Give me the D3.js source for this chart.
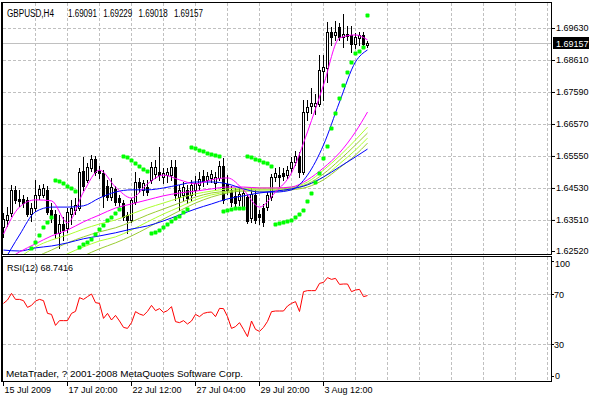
<!DOCTYPE html>
<html><head><meta charset="utf-8">
<script src="https://cdn.jsdelivr.net/npm/d3@7"></script>
<style>
html,body{margin:0;padding:0;background:#fff;}
svg{display:block;}
text{font-family:"Liberation Sans",Arial,sans-serif;font-size:9px;fill:#000;}
</style></head><body><svg id="c" width="589" height="398"></svg>
<script>
const symbol = "GBPUSD,H4";
const copyright = "MetaTrader, ? 2001-2008 MetaQuotes Software Corp.";
const rsiName = "RSI(12)";
const dateTickIdx = [0,16,32,48,64,80];
const dateTickLabels = ["15 Jul 2009","17 Jul 20:00","22 Jul 12:00","27 Jul 04:00","29 Jul 20:00","3 Aug 12:00"];
const priceTicks = [1.69630,1.68610,1.67590,1.66570,1.65550,1.64530,1.63510];
const priceBottom = 1.62520;
const rsiTicks = [100,70,30,0];
const rsiLevels = [70,30];

const opens = [1.6329,1.6351,1.6373,1.6447,1.6418,1.6418,1.6415,1.6370,1.6389,1.6431,
1.6431,1.6447,1.6383,1.6370,1.6310,1.6338,1.6326,1.6370,1.6383,1.6389,
1.6507,1.6479,1.6517,1.6545,1.6507,1.6501,1.6459,1.6424,1.6450,1.6421,
1.6405,1.6367,1.6351,1.6408,1.6472,1.6447,1.6456,1.6479,1.6498,1.6504,
1.6488,1.6494,1.6494,1.6520,1.6424,1.6431,1.6447,1.6431,1.6447,1.6463,
1.6491,1.6479,1.6485,1.6469,1.6485,1.6523,1.6466,1.6447,1.6428,1.6415,
1.6392,1.6424,1.6357,1.6431,1.6370,1.6389,1.6392,1.6424,1.6488,1.6494,
1.6501,1.6494,1.6517,1.6536,1.6555,1.6504,1.6695,1.6714,1.6714,1.6721,
1.6826,1.6836,1.6950,1.6941,1.6966,1.6934,1.6944,1.6941,1.6912,1.6931,
1.6941,1.69091];
const highs = [1.6373,1.6392,1.6463,1.6459,1.6447,1.6431,1.6424,1.6405,1.6479,1.6463,
1.6466,1.6459,1.6405,1.6383,1.6367,1.6361,1.6389,1.6415,1.6421,1.6517,
1.6552,1.6533,1.6558,1.6555,1.6523,1.6510,1.6479,1.6485,1.6459,1.6431,
1.6415,1.6377,1.6421,1.6504,1.6485,1.6479,1.6479,1.6536,1.6542,1.6584,
1.6517,1.6517,1.6542,1.6542,1.6463,1.6472,1.6463,1.6479,1.6491,1.6504,
1.6510,1.6504,1.6510,1.6504,1.6539,1.6549,1.6494,1.6459,1.6453,1.6453,
1.6447,1.6434,1.6453,1.6447,1.6383,1.6402,1.6440,1.6498,1.6517,1.6520,
1.6517,1.6523,1.6552,1.6571,1.6568,1.6734,1.6734,1.6772,1.6753,1.6877,
1.6877,1.6982,1.6966,1.6985,1.6979,1.7008,1.6969,1.6969,1.6947,1.6950,
1.6950,1.69229];
const lows = [1.6297,1.6332,1.6364,1.6405,1.6396,1.6392,1.6364,1.6348,1.6380,1.6418,
1.6424,1.6370,1.6345,1.6294,1.6262,1.6287,1.6313,1.6338,1.6370,1.6383,
1.6447,1.6472,1.6507,1.6494,1.6485,1.6392,1.6415,1.6415,1.6399,1.6396,
1.6351,1.6310,1.6345,1.6402,1.6440,1.6431,1.6431,1.6469,1.6485,1.6479,
1.6469,1.6472,1.6479,1.6415,1.6383,1.6415,1.6405,1.6415,1.6431,1.6447,
1.6459,1.6466,1.6472,1.6447,1.6479,1.6405,1.6434,1.6396,1.6392,1.6399,
1.6392,1.6342,1.6345,1.6342,1.6338,1.6332,1.6383,1.6415,1.6475,1.6459,
1.6479,1.6485,1.6504,1.6526,1.6488,1.6498,1.6670,1.6692,1.6689,1.6714,
1.6734,1.6791,1.6909,1.6925,1.6925,1.6903,1.6925,1.6887,1.6899,1.6909,
1.6903,1.69018];
const closes = [1.6354,1.6367,1.6447,1.6415,1.6412,1.6405,1.6370,1.6389,1.6431,1.6450,
1.6453,1.6377,1.6364,1.6310,1.6338,1.6319,1.6377,1.6389,1.6399,1.6504,
1.6459,1.6520,1.6545,1.6504,1.6501,1.6428,1.6424,1.6456,1.6408,1.6408,
1.6361,1.6351,1.6415,1.6472,1.6456,1.6469,1.6440,1.6520,1.6520,1.6494,
1.6501,1.6504,1.6520,1.6431,1.6447,1.6456,1.6421,1.6463,1.6469,1.6482,
1.6475,1.6491,1.6498,1.6488,1.6523,1.6415,1.6447,1.6408,1.6405,1.6434,
1.6437,1.6348,1.6434,1.6351,1.6361,1.6345,1.6431,1.6488,1.6501,1.6488,
1.6491,1.6510,1.6536,1.6555,1.6504,1.6695,1.6711,1.6724,1.6724,1.6829,
1.6839,1.6950,1.6934,1.6950,1.6934,1.6944,1.6938,1.6912,1.6934,1.6941,
1.6912,1.69157];

const sar = [null,null,null,null,null,null,null,1.6262,1.6281,1.6303,
1.6329,1.6345,1.6361,1.6479,1.6475,1.6469,1.6459,1.6453,1.6443,1.6265,
1.6275,1.6281,1.6291,1.6306,1.6322,1.6335,1.6351,1.6361,1.6373,1.6386,
1.6555,1.6552,1.6542,1.6533,1.6523,1.6514,1.6507,1.6310,1.6313,1.6319,
1.6329,1.6338,1.6348,1.6357,1.6364,1.6377,1.6386,1.6584,1.6581,1.6574,
1.6571,1.6565,1.6561,1.6558,1.6555,1.6380,1.6383,1.6386,1.6389,1.6389,
1.6389,1.6555,1.6552,1.6545,1.6542,1.6536,1.6533,1.6523,1.6338,1.6342,
1.6345,1.6348,1.6351,1.6361,1.6370,1.6383,1.6412,1.6437,1.6472,1.6501,
1.6549,1.6587,1.6644,1.6692,1.6740,1.6781,1.6823,1.6855,1.6883,1.6890,
1.6903,1.7004];

const rsi = [62.5,65.2,70.5,65.7,65.7,64.7,59.3,60.9,64.4,65.7,
64.7,54.5,53.7,44.9,48.7,48.7,48.7,54.5,56.1,67.1,
65.7,67.9,70.0,63.1,62.5,50.5,54.5,49.2,52.9,48.4,
43.3,42.5,47.1,55.9,54.0,52.9,56.1,60.9,56.7,58.3,
55.3,56.7,59.9,47.9,47.1,48.7,46.0,48.4,53.7,51.9,
54.5,55.3,55.6,51.9,58.5,58.3,51.9,42.5,43.9,47.1,
41.7,35.9,48.4,41.7,40.1,43.3,48.1,55.9,56.4,56.4,
56.4,60.4,62.5,63.9,56.0,71.9,72.7,72.7,72.7,78.5,
79.3,83.1,81.7,82.5,77.7,78.0,78.0,71.9,73.2,73.7,
67.9,68.7416];

// moving averages read at every 4th bar
const maIdx = [0,4,8,12,16,20,24,28,32,36,40,44,48,52,56,60,64,68,72,76,80,84,88,91];
const maMagentaFast = [1.6306,1.6392,1.6415,1.6412,1.6342,1.6440,1.6510,1.6456,1.6421,1.6466,1.6494,1.6479,1.6466,1.6479,1.6485,1.6447,1.6392,1.6440,1.6501,1.6632,1.6781,1.6931,1.6941,1.6925];
const maMagentaSlow = [1.6217,1.6249,1.6275,1.6300,1.6319,1.6345,1.6367,1.6389,1.6402,1.6415,1.6428,1.6437,1.6443,1.6450,1.6456,1.6456,1.6453,1.6453,1.6456,1.6479,1.6517,1.6565,1.6632,1.6695];
const maBlueFast = [1.6217,1.6303,1.6377,1.6392,1.6392,1.6396,1.6421,1.6440,1.6447,1.6447,1.6453,1.6463,1.6472,1.6472,1.6466,1.6450,1.6440,1.6440,1.6447,1.6494,1.6590,1.6727,1.6855,1.6893];
const maBlueSlow = [1.6255,1.6252,1.6262,1.6268,1.6278,1.6291,1.6300,1.6310,1.6322,1.6332,1.6348,1.6367,1.6386,1.6402,1.6418,1.6428,1.6437,1.6443,1.6450,1.6463,1.6488,1.6520,1.6552,1.6577];
const maLime1 = [1.6176,1.6230,1.6265,1.6287,1.6303,1.6322,1.6338,1.6351,1.6370,1.6389,1.6405,1.6421,1.6434,1.6443,1.6450,1.6453,1.6453,1.6453,1.6456,1.6472,1.6510,1.6555,1.6606,1.6647];
const maLime2 = [1.6128,1.6185,1.6230,1.6255,1.6278,1.6297,1.6313,1.6326,1.6345,1.6367,1.6386,1.6405,1.6424,1.6437,1.6443,1.6450,1.6450,1.6450,1.6453,1.6466,1.6498,1.6542,1.6590,1.6628];
const maLime3 = [1.6080,1.6138,1.6182,1.6214,1.6243,1.6265,1.6284,1.6297,1.6319,1.6345,1.6370,1.6392,1.6415,1.6431,1.6440,1.6447,1.6447,1.6447,1.6450,1.6463,1.6488,1.6530,1.6574,1.6612];
const maLime4 = [1.6032,1.6096,1.6141,1.6176,1.6208,1.6236,1.6259,1.6278,1.6300,1.6326,1.6354,1.6380,1.6405,1.6424,1.6437,1.6443,1.6443,1.6443,1.6447,1.6456,1.6479,1.6517,1.6558,1.6596];

// ---------- drawing ----------
const svg = d3.select('#c');
const nSlots = 137;
const x = d3.scaleLinear().domain([0, nSlots]).range([3, 551]);
const y = d3.scaleLinear().domain([priceBottom, priceTicks[0]]).range([251, 28]);
const yr = d3.scaleLinear().domain([0, 100]).range([381.5, 256.5]);
const GRID = '#c0c0c0';

const defs = svg.append('defs');
defs.append('clipPath').attr('id','clipMain').append('rect').attr('x',3).attr('y',3).attr('width',548).attr('height',251);
defs.append('clipPath').attr('id','clipRsi').append('rect').attr('x',3).attr('y',257).attr('width',548).attr('height',124);

svg.append('rect').attr('width',589).attr('height',398).attr('fill','#fff');

const vGrid = d3.range(8, nSlots, 8);
// main grid
const gGrid = svg.append('g').attr('stroke',GRID).attr('stroke-dasharray','3,2').attr('shape-rendering','crispEdges');
gGrid.selectAll('line.v').data(vGrid).join('line').attr('class','v')
  .attr('x1',d=>x(d)+0.5).attr('x2',d=>x(d)+0.5).attr('y1',3).attr('y2',254);
gGrid.selectAll('line.h').data(priceTicks).join('line').attr('class','h')
  .attr('x1',3).attr('x2',551).attr('y1',d=>Math.round(y(d))+0.5).attr('y2',d=>Math.round(y(d))+0.5);
// rsi grid
gGrid.selectAll('line.rv').data(vGrid).join('line').attr('class','rv')
  .attr('x1',d=>x(d)+0.5).attr('x2',d=>x(d)+0.5).attr('y1',257).attr('y2',381);
gGrid.selectAll('line.rh').data(rsiLevels).join('line').attr('class','rh')
  .attr('x1',3).attr('x2',551).attr('y1',d=>Math.round(yr(d))+0.5).attr('y2',d=>Math.round(yr(d))+0.5);

const bid = closes[closes.length-1];
svg.append('line').attr('x1',3).attr('x2',551)
  .attr('y1',Math.round(y(bid))+0.5).attr('y2',Math.round(y(bid))+0.5)
  .attr('stroke',GRID).attr('shape-rendering','crispEdges');

const gMain = svg.append('g').attr('clip-path','url(#clipMain)');
const bars = opens.map((o,i)=>({i, o, h:highs[i], l:lows[i], c:closes[i]}));
const gc = gMain.append('g').attr('shape-rendering','crispEdges');
gc.selectAll('line').data(bars).join('line')
  .attr('x1',d=>x(d.i)+0.5).attr('x2',d=>x(d.i)+0.5)
  .attr('y1',d=>Math.round(y(d.h))).attr('y2',d=>Math.round(y(d.l))+1)
  .attr('stroke','#000');
gc.selectAll('rect').data(bars).join('rect')
  .attr('x',d=>x(d.i)-0.5).attr('width',2)
  .attr('y',d=>Math.round(y(Math.max(d.o,d.c)))+0.5)
  .attr('height',d=>Math.max(1, Math.round(y(Math.min(d.o,d.c))) - Math.round(y(Math.max(d.o,d.c)))))
  .attr('fill',d=>d.c>=d.o?'#fff':'#000').attr('stroke','#000');

const maLine = d3.line().x((d,k)=>x(maIdx[k])+0.5).y(d=>y(d)).curve(d3.curveMonotoneX);
const maDefs = [
  {v:maLime4, c:'#9acd32'}, {v:maLime3, c:'#adff2f'}, {v:maLime2, c:'#9acd32'}, {v:maLime1, c:'#adff2f'},
  {v:maBlueSlow, c:'#0000ff'}, {v:maMagentaSlow, c:'#ff00ff'},
  {v:maBlueFast, c:'#0000ff'}, {v:maMagentaFast, c:'#ff00ff'}
];
gMain.selectAll('path.ma').data(maDefs).join('path').attr('class','ma')
  .attr('d',d=>maLine(d.v)).attr('fill','none').attr('stroke',d=>d.c).attr('stroke-width',1);

const sarPts = sar.map((v,i)=>({i,v})).filter(d=>d.v!==null);
gMain.selectAll('rect.sar').data(sarPts).join('rect').attr('class','sar')
  .attr('x',d=>x(d.i)-1.5).attr('y',d=>Math.round(y(d.v))-1.5)
  .attr('width',4).attr('height',4).attr('rx',1).attr('fill','#00ff00');

// RSI
const gR = svg.append('g').attr('clip-path','url(#clipRsi)');
gR.append('path').attr('d', d3.line().x((d,i)=>x(i)+0.5).y(d=>yr(d))(rsi))
  .attr('fill','none').attr('stroke','#ff0000').attr('stroke-width',1);

// frames
const gF = svg.append('g').attr('fill','none').attr('stroke','#000').attr('shape-rendering','crispEdges');
gF.append('rect').attr('x',2.5).attr('y',2.5).attr('width',549).attr('height',252);
gF.append('rect').attr('x',2.5).attr('y',256.5).attr('width',549).attr('height',125);
gF.append('line').attr('x1',1.5).attr('x2',1.5).attr('y1',2).attr('y2',382);

// price axis
const pa = svg.append('g').attr('transform','translate(551,0)')
  .call(d3.axisRight(y).tickValues([...priceTicks, priceBottom]).tickSize(4).tickPadding(1).tickFormat(d3.format('.5f')));
pa.select('.domain').remove();
pa.selectAll('text').attr('font-size',9).attr('font-family','"Liberation Sans",Arial,sans-serif').attr('fill','#000');
pa.selectAll('line').attr('stroke','#000');

// bid label
const by = Math.round(y(bid));
svg.append('rect').attr('x',553).attr('y',by-6).attr('width',36).attr('height',12).attr('fill','#000');
svg.append('text').attr('x',556).attr('y',by+3.5).attr('fill','#fff').style('fill','#fff').text(d3.format('.5f')(bid));

// rsi axis
const ra = svg.append('g').attr('transform','translate(551,0)');
ra.selectAll('line').data(rsiTicks).join('line')
  .attr('x1',0).attr('x2',3)
  .attr('y1',d=>Math.round(yr(d) + (d===100?4:d===0?-6:0))+0.5)
  .attr('y2',d=>Math.round(yr(d) + (d===100?4:d===0?-6:0))+0.5)
  .attr('stroke','#000');
ra.selectAll('text').data(rsiTicks).join('text')
  .attr('x',d=>d===100||d===0?4:3)
  .attr('y',d=>yr(d) + (d===100?10:d===0?-3:3.5))
  .text(d=>d);

// date axis
const da = svg.append('g').attr('transform','translate(0,381)')
  .call(d3.axisBottom(x).tickValues(dateTickIdx).tickSize(5).tickPadding(1).tickFormat((d,k)=>dateTickLabels[k]));
da.select('.domain').remove();
da.selectAll('line').attr('stroke','#000');
da.selectAll('text').attr('text-anchor','start').attr('dx',1).attr('dy','0.72em')
  .attr('font-size',9).attr('font-family','"Liberation Sans",Arial,sans-serif').attr('fill','#000');

// title
const last = bars[bars.length-1];
const fmt = d3.format('.5f');
svg.append('text').attr('x',7).attr('y',17).style('font-size','10px')
  .attr('textLength',47).attr('lengthAdjust','spacingAndGlyphs').text(symbol);
const tv = [last.o,last.h,last.l,last.c];
svg.selectAll('text.tv').data(tv).join('text').attr('class','tv')
  .attr('x',(d,k)=>68 + k*35.3).attr('y',17).style('font-size','10px')
  .attr('textLength',29).attr('lengthAdjust','spacingAndGlyphs').text(d=>fmt(d));

svg.append('text').attr('x',7).attr('y',271).text(rsiName + ' ' + rsi[rsi.length-1].toFixed(4));
svg.append('text').attr('x',6).attr('y',377).attr('textLength',237).attr('lengthAdjust','spacingAndGlyphs').text(copyright);
</script></body></html>
